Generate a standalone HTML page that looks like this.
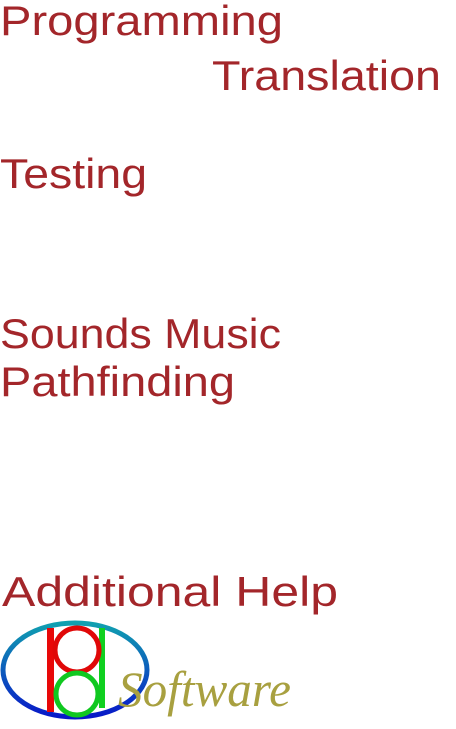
<!DOCTYPE html>
<html><head><meta charset="utf-8"><style>
html,body{margin:0;padding:0;background:#fff;width:456px;height:729px;overflow:hidden}
svg{display:block}
.t{font-family:"Liberation Sans",sans-serif;font-size:42px;fill:#a3262a}
</style></head><body>
<svg width="456" height="729" viewBox="0 0 456 729">
<text class="t" x="0" y="35" textLength="283" lengthAdjust="spacingAndGlyphs">Programming</text>
<text class="t" x="212" y="90" textLength="229" lengthAdjust="spacingAndGlyphs">Translation</text>
<text class="t" x="0" y="188" textLength="147" lengthAdjust="spacingAndGlyphs">Testing</text>
<text class="t" x="0" y="348" textLength="281" lengthAdjust="spacingAndGlyphs">Sounds Music</text>
<text class="t" x="0" y="396" textLength="235" lengthAdjust="spacingAndGlyphs">Pathfinding</text>
<text class="t" x="2" y="606" textLength="336" lengthAdjust="spacingAndGlyphs">Additional Help</text>
<g>
<defs><linearGradient id="eg" x1="0" y1="0" x2="0" y2="1"><stop offset="0" stop-color="#10a0b0"/><stop offset="1" stop-color="#0818c8"/></linearGradient></defs>
<ellipse cx="75" cy="670" rx="72" ry="47" fill="none" stroke="url(#eg)" stroke-width="5"/>
<rect x="47" y="628" width="7" height="84" fill="#e80808"/>
<rect x="99" y="628" width="6" height="80" fill="#10d020"/>
<circle cx="77" cy="650" r="22" fill="none" stroke="#e00808" stroke-width="5"/>
<circle cx="77" cy="694" r="21" fill="none" stroke="#10c820" stroke-width="5"/>
<text x="118" y="706" textLength="173" lengthAdjust="spacingAndGlyphs" style="font-family:'Liberation Serif',serif;font-style:italic;font-size:50px;fill:#a8a040">Software</text>
</g>
</svg>
</body></html>
